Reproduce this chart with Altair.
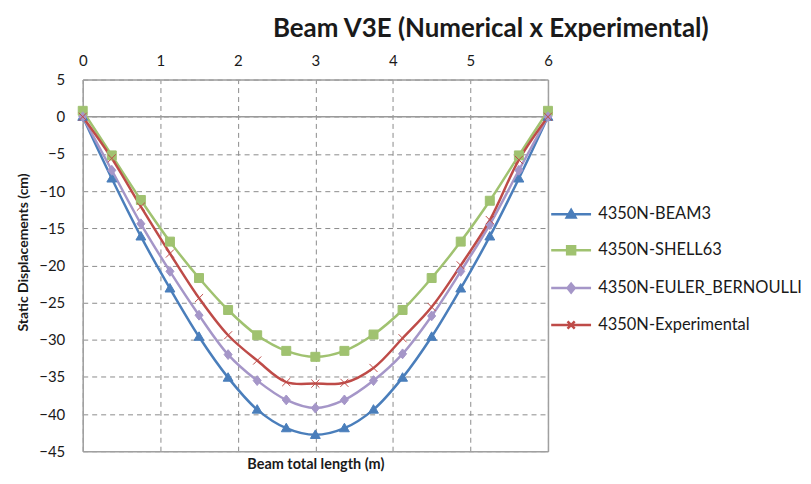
import altair as alt
import pandas as pd

# ---- data ----
positions = [0, 0.375, 0.75, 1.125, 1.5, 1.875, 2.25, 2.625, 3, 3.375, 3.75, 4.125, 4.5, 4.875, 5.25, 5.625, 6]
beam3 = [0, -8.3, -16.1, -23.1, -29.6, -35.1, -39.4, -41.9, -42.8, -41.9, -39.4, -35.1, -29.6, -23.1, -16.1, -8.3, 0]
shell63 = [0.8, -5.2, -11.2, -16.8, -21.7, -26.0, -29.4, -31.5, -32.3, -31.5, -29.3, -26.0, -21.7, -16.8, -11.3, -5.2, 0.8]
euler = [0, -7.2, -14.4, -20.8, -26.7, -32.0, -35.5, -38.1, -39.2, -38.1, -35.5, -31.9, -26.8, -20.8, -14.5, -7.2, 0]
experimental = [0, -5.6, -12.1, -18.4, -24.4, -29.4, -32.8, -35.7, -35.9, -35.8, -33.8, -29.8, -25.6, -20.0, -13.9, -5.8, 0]

series_names = ["4350N-BEAM3", "4350N-SHELL63", "4350N-EULER_BERNOULLI", "4350N-Experimental"]
series_colors = ["#4A7EBB", "#A0C270", "#A596C8", "#BE4B48"]
x_ticks = [0, 1, 2, 3, 4, 5, 6]
y_ticks = [5, 0, -5, -10, -15, -20, -25, -30, -35, -40, -45]

marker_paths = [
    "M0,-1.1L1.1,0.8L-1.1,0.8Z",
    "M-1,-1H1V1H-1Z",
    "M0,-1.1L0.9,0L0,1.1L-0.9,0Z",
    "M-0.9,-0.9L0.9,0.9M0.9,-0.9L-0.9,0.9",
]
legend_paths = ["M-5,0H5" + p for p in marker_paths]

rows = []
for name, vals in zip(series_names, [beam3, shell63, euler, experimental]):
    for i, (p, v) in enumerate(zip(positions, vals)):
        rows.append({"series": name, "pos": p, "disp": v, "idx": i})
df = pd.DataFrame(rows)

FONT = "Lato"
TXT = "#1a1a1a"
GRID = "#8C8C8C"
FRAME = "#A0A0A0"

x_scale = alt.Scale(domain=[0, 6], nice=False, zero=False)
y_scale = alt.Scale(domain=[-45, 5], nice=False, zero=False)

def color_scale():
    return alt.Scale(domain=series_names, range=series_colors)

left_axis = alt.Axis(orient="left", values=y_ticks, title="Static Displacements (cm)", ticks=False,
                     domain=True, domainColor=FRAME, domainWidth=1.5,
                     labelPadding=18, labelFontSize=15, labelFont=FONT, labelColor=TXT, labelFlush=False,
                     grid=True, gridDash=[5, 4], gridColor=GRID, gridWidth=1,
                     titleFont=FONT, titleFontSize=14, titleFontWeight="bold", titleColor=TXT,
                     titlePadding=8, titleY=173, titleAlign="center")
right_axis = alt.Axis(orient="right", values=y_ticks, title=None, labels=False, ticks=False,
                      domain=True, domainColor=FRAME, domainWidth=1.5, grid=False)
top_axis = alt.Axis(orient="top", values=x_ticks, title=None, ticks=False,
                    domain=True, domainColor=FRAME, domainWidth=1.5,
                    labelPadding=11, labelFontSize=15, labelFont=FONT, labelColor=TXT, labelFlush=False,
                    grid=True, gridDash=[5, 4], gridColor=GRID, gridWidth=1)
bottom_axis = alt.Axis(orient="bottom", title="Beam total length (m)", labels=False, ticks=False,
                       domain=True, domainColor=FRAME, domainWidth=1.5, grid=False,
                       titleFont=FONT, titleFontSize=14.5, titleFontWeight="bold", titleColor=TXT,
                       titlePadding=6)

zero_rule = alt.Chart(pd.DataFrame({"zero": [0]})).mark_rule(color="#9A9A9A", strokeWidth=1.5).encode(
    y=alt.Y("zero:Q", scale=y_scale, axis=left_axis)
)

lines = alt.Chart(df).mark_line(interpolate="catmull-rom", strokeWidth=2.5).encode(
    x=alt.X("pos:Q", scale=x_scale, axis=top_axis),
    y=alt.Y("disp:Q", scale=y_scale, axis=right_axis),
    color=alt.Color("series:N", scale=color_scale(), legend=None),
    order="idx:Q",
)

points = alt.Chart(df).mark_point(filled=True, size=81, strokeWidth=1, opacity=1).encode(
    x=alt.X("pos:Q", scale=x_scale, axis=bottom_axis),
    y=alt.Y("disp:Q", scale=y_scale, axis=None),
    fill=alt.Fill("series:N", scale=color_scale(), legend=None),
    stroke=alt.Stroke("series:N", scale=color_scale(), legend=None),
    shape=alt.Shape("series:N", scale=alt.Scale(domain=series_names, range=marker_paths), legend=None),
)

leg = alt.Legend(title=None, orient="none", legendX=482, legendY=127, symbolSize=64,
                 symbolStrokeWidth=2.5, labelFontSize=16.5, labelFont=FONT, labelColor=TXT,
                 labelOffset=19, rowPadding=18, labelLimit=230)

legend_layer = alt.Chart(df).transform_filter("false").mark_point(filled=True, opacity=1).encode(
    x=alt.X("pos:Q", scale=x_scale, axis=None),
    y=alt.Y("disp:Q", scale=y_scale, axis=None),
    fill=alt.Fill("series:N", scale=color_scale(), legend=leg),
    stroke=alt.Stroke("series:N", scale=color_scale(), legend=leg),
    shape=alt.Shape("series:N", scale=alt.Scale(domain=series_names, range=legend_paths), legend=leg),
)

chart = alt.layer(zero_rule, lines, points, legend_layer).resolve_scale(
    color="independent", fill="independent", stroke="independent", shape="independent"
).resolve_axis(x="independent", y="independent").properties(
    width=467, height=373,
    title=alt.Title("Beam V3E (Numerical x Experimental)", anchor="start", dx=257, fontSize=26,
                    font=FONT, fontWeight="bold", color=TXT, offset=12),
    padding={"left": 8, "top": 7, "right": 0, "bottom": 0},
).configure_view(stroke=None).configure(background="white")

chart.save("out.html", embed_options={"renderer": "svg", "actions": False})
